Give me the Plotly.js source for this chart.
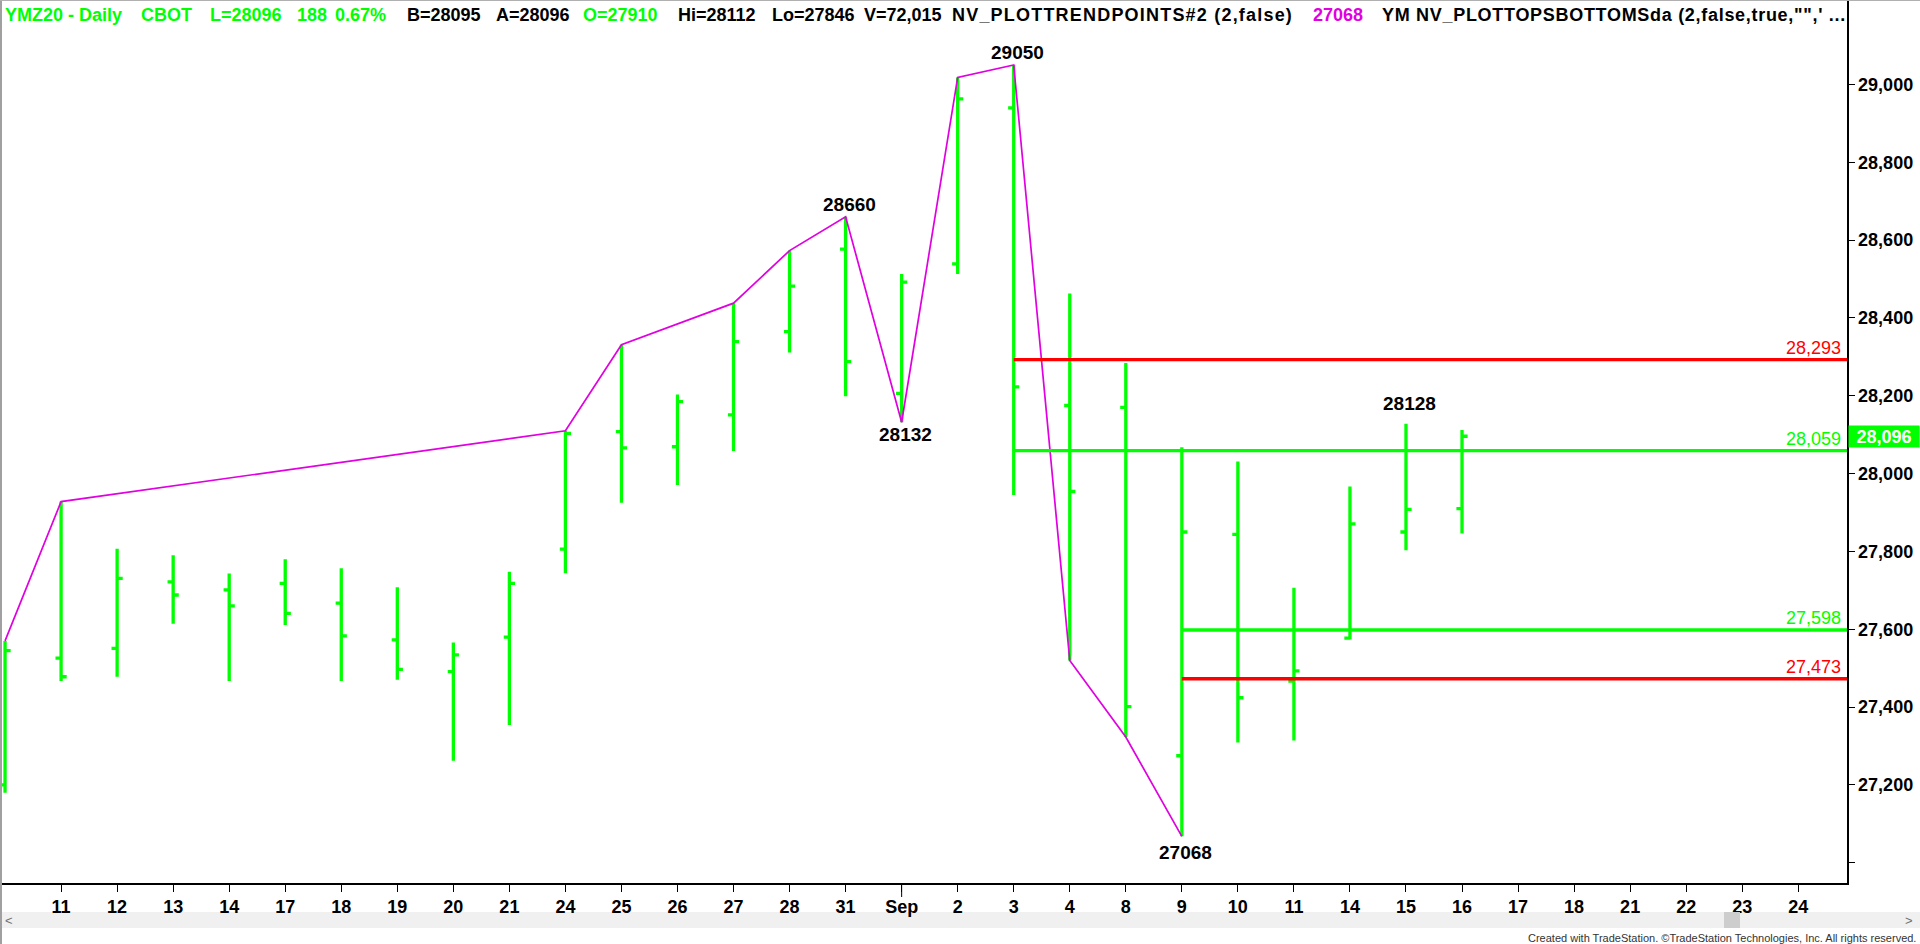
<!DOCTYPE html>
<html><head><meta charset="utf-8">
<script src="https://cdn.plot.ly/plotly-3.0.1.min.js"></script>
<style>html,body{margin:0;padding:0;background:#fff;overflow:hidden}#chart{width:1920px;height:944px}</style>
</head><body><div id="chart"></div>
<script>
// ---- data ----
const tickLabels = ['10','11','12','13','14','17','18','19','20','21','24','25','26','27','28','31','Sep','2','3','4','8','9','10','11','14','15','16','17','18','21','22','23','24'];
const opens  = [27200,27526,27551,27722,27701,27718,27667,27573,27491,27580,27806,28108,28069,28151,28365,28577,28206,28539,28940,28175,28170,27275,27844,27467,27577,27850,27910];
const highs  = [27570,27928,27807,27790,27743,27780,27757,27708,27566,27748,28110,28331,28203,28438,28573,28660,28513,29018,29050,28463,28284,28068,28031,27707,27967,28128,28112];
const lows   = [27180,27467,27478,27614,27467,27611,27467,27470,27262,27354,27744,27925,27971,28058,28311,28199,28132,28513,27945,27520,27323,27068,27309,27314,27574,27803,27846];
const closes = [27545,27478,27731,27688,27660,27641,27583,27497,27534,27718,28103,28066,28185,28339,28482,28288,28492,28963,28223,27954,27401,27850,27424,27493,27871,27908,28096];
const trendIdx  = [0,1,10,11,13,14,15,16,17,18,19,20,21];
const trendVals = [27570,27928,28110,28331,28438,28573,28660,28132,29018,29050,27520,27323,27068];
const levelVals   = [28293,28059,27598,27473];
const levelStart  = [18,18,21,21];
const levelColors = ['#ff0000','#00ff00','#00ff00','#ff0000'];
const pivotIdx = [15,18,16,21,25];
const pivotSide = ['top','top','bottom','bottom','top'];
const yTicks = [27000,27200,27400,27600,27800,28000,28200,28400,28600,28800,29000];
const lastClose = 28096;

// ---- build ----
const GREEN = '#00ff00', MAG = '#e000e0';
const xIdx = opens.map((_, i) => i);
const xMin = -0.09, xMax = 32.87;
const fmt = v => v.toLocaleString('en-US');
const BOLD = {family: 'Liberation Sans, Arial, sans-serif', size: 18, color: '#000', weight: 'bold'};

const traces = [];
traces.push({
  type: 'ohlc', x: xIdx, open: opens, high: highs, low: lows, close: closes,
  increasing: {line: {color: GREEN, width: 3.3}},
  decreasing: {line: {color: GREEN, width: 3.3}},
  tickwidth: 0.1, hoverinfo: 'skip', showlegend: false
});
traces.push({
  type: 'scatter', mode: 'lines', x: trendIdx, y: trendVals,
  line: {color: MAG, width: 1.7}, hoverinfo: 'skip', showlegend: false
});
levelVals.forEach((v, k) => {
  traces.push({type: 'scatter', mode: 'lines', x: [levelStart[k], xMax], y: [v, v],
    line: {color: levelColors[k], width: 3.4}, hoverinfo: 'skip', showlegend: false});
});

const PH = 883, PW = 1847;
const py = yo => (PH - yo) / PH;
const px = xo => xo / PW;

const annotations = [];
// header segments: [text, colour, left x, letter spacing]
const header = [
  ['YMZ20 - Daily', GREEN, 4, 0], ['CBOT', GREEN, 140, 0], ['L=28096', GREEN, 209, 0], ['188', GREEN, 296, 0], ['0.67%', GREEN, 334, 0],
  ['B=28095', '#000', 406, 0], ['A=28096', '#000', 495, 0], ['O=27910', GREEN, 582, 0], ['Hi=28112', '#000', 677, 0], ['Lo=27846', '#000', 771, 0],
  ['V=72,015', '#000', 863, 0], ['NV_PLOTTRENDPOINTS#2 (2,false)', '#000', 951, 1.2], ['27068', MAG, 1312, 0],
  ['YM NV_PLOTTOPSBOTTOMSda (2,false,true,"",\' ...', '#000', 1381, 0.7]
];
header.forEach(h => annotations.push({
  xref: 'paper', yref: 'paper', x: px(h[2]), y: py(15), xanchor: 'left', yanchor: 'middle',
  text: h[3] ? '<span style="letter-spacing:' + h[3] + 'px">' + h[0] + '</span>' : h[0],
  showarrow: false, borderpad: 0,
  font: {family: 'Liberation Sans, Arial, sans-serif', size: 18, color: h[1], weight: 'bold'}
}));
// pivot labels
pivotIdx.forEach((i, k) => {
  const top = pivotSide[k] === 'top';
  const v = top ? highs[i] : lows[i];
  annotations.push({x: i, y: v, xref: 'x', yref: 'y', text: String(v), showarrow: false,
    xanchor: 'center', yanchor: top ? 'bottom' : 'top', xshift: 4,
    yshift: (i === 25 ? 8 : (i === 21 ? -4 : 0)),
    font: {family: 'Liberation Sans, Arial, sans-serif', size: 19, color: '#000', weight: 'bold'}});
});
// level labels
levelVals.forEach((v, k) => annotations.push({
  xref: 'paper', yref: 'y', x: px(1842), y: v, xanchor: 'right', yanchor: 'bottom', yshift: 1,
  text: fmt(v), showarrow: false, borderpad: 0,
  font: {family: 'Liberation Sans, Arial, sans-serif', size: 18, color: levelColors[k]}
}));
// last price box
annotations.push({xref: 'paper', yref: 'y', x: px(1848), y: lastClose, xanchor: 'left', yanchor: 'middle',
  text: fmt(lastClose), showarrow: false, bgcolor: GREEN, width: 70, height: 21, borderpad: 0, align: 'center',
  font: {family: 'Liberation Sans, Arial, sans-serif', size: 18, color: '#fff', weight: 'bold'}});
// scrollbar arrows + footer
annotations.push({xref: 'paper', yref: 'paper', x: px(9), y: py(920), text: '<', showarrow: false, xanchor: 'center', yanchor: 'middle',
  font: {family: 'Liberation Sans, Arial', size: 13, color: '#707070'}});
annotations.push({xref: 'paper', yref: 'paper', x: px(1909), y: py(920), text: '>', showarrow: false, xanchor: 'center', yanchor: 'middle',
  font: {family: 'Liberation Sans, Arial', size: 13, color: '#707070'}});
annotations.push({xref: 'paper', yref: 'paper', x: px(1918), y: py(938), xanchor: 'right', yanchor: 'middle', showarrow: false,
  text: 'Created with TradeStation. ©TradeStation Technologies, Inc. All rights reserved.',
  font: {family: 'Liberation Sans Narrow, Liberation Sans, Arial, sans-serif', size: 11, color: '#333'}});

const shapes = [
  {type: 'rect', xref: 'paper', yref: 'paper', x0: 0, x1: px(1920), y0: py(912), y1: py(928), fillcolor: '#f0f0f0', line: {width: 0}, layer: 'below'},
  {type: 'rect', xref: 'paper', yref: 'paper', x0: px(1724), x1: px(1740), y0: py(912), y1: py(928), fillcolor: '#cdcdcd', line: {width: 0}},
  {type: 'line', xref: 'paper', yref: 'paper', x0: px(1), x1: px(1), y0: 1, y1: py(944), line: {color: '#a0a0a0', width: 2}},
  {type: 'line', xref: 'paper', yref: 'paper', x0: 0, x1: px(1920), y0: py(0.5), y1: py(0.5), line: {color: '#b0b0b0', width: 1}},
  {type: 'line', xref: 'x', yref: 'paper', x0: 16, x1: 16, y0: 0, y1: py(897), line: {color: '#000', width: 1}}
];

const layout = {
  width: 1920, height: 944,
  margin: {l: 0, r: 73, t: 0, b: 61, pad: 0},
  paper_bgcolor: '#fff', plot_bgcolor: '#fff',
  showlegend: false, dragmode: false, hovermode: false,
  xaxis: {
    type: 'linear', range: [xMin, xMax], fixedrange: true,
    tickmode: 'array', tickvals: tickLabels.map((_, i) => i).slice(1), ticktext: tickLabels.slice(1),
    ticks: 'outside', ticklen: 7, tickcolor: '#000', tickwidth: 1,
    showline: true, linecolor: '#000', linewidth: 1.5, showgrid: false, zeroline: false,
    tickfont: BOLD, rangeslider: {visible: false}
  },
  yaxis: {
    side: 'right', range: [26948, 29217], fixedrange: true,
    tickmode: 'array', tickvals: yTicks, ticktext: yTicks.map(v => v === 27000 ? '' : fmt(v)),
    ticks: 'outside', ticklen: 6, tickcolor: '#000', tickwidth: 1,
    showline: true, linecolor: '#000', linewidth: 1.5, showgrid: false, zeroline: false,
    tickfont: BOLD
  },
  annotations: annotations,
  shapes: shapes
};

Plotly.newPlot('chart', traces, layout, {staticPlot: true, displayModeBar: false});
</script></body></html>
